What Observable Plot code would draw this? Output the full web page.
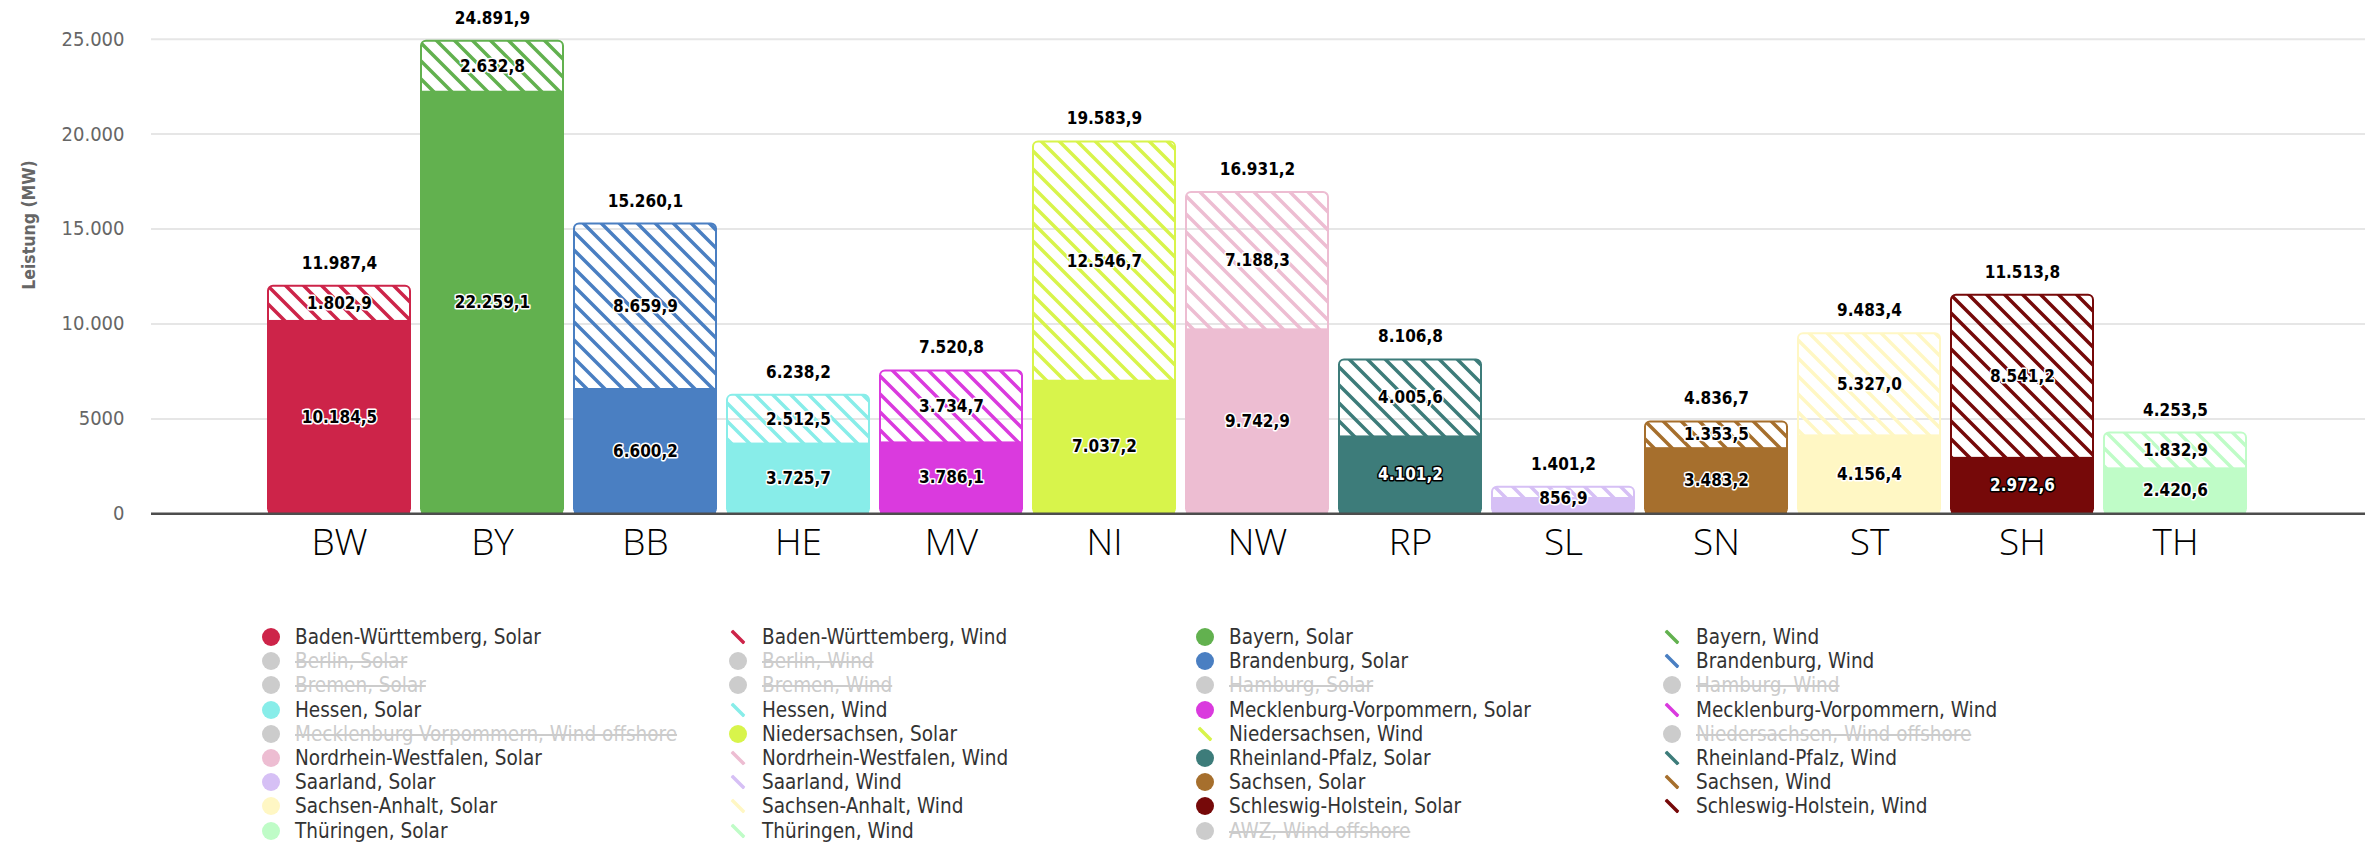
<!DOCTYPE html>
<html lang="de">
<head>
<meta charset="utf-8">
<script src="https://cdn.jsdelivr.net/npm/d3@7"></script>
<script src="https://cdn.jsdelivr.net/npm/@observablehq/plot@0.6"></script>
<style>
  html, body { margin: 0; padding: 0; background: #fff; }
  #wrap { position: relative; width: 2372px; height: 843px; overflow: hidden; }
  .cond { font-family: "DejaVu Sans Condensed", "DejaVu Sans", sans-serif; font-stretch: condensed; }
  #legend { position: absolute; left: 0; top: 600px; width: 2372px; height: 243px; }
  .item { position: absolute; display: flex; align-items: center; height: 24px; white-space: nowrap; font-size: 20.5px; color: #333; }
  .item svg { flex: none; margin-right: 15px; }
  .item.off { color: #ccc; }
  .item.off span { text-decoration: line-through; }
</style>
</head>
<body>
<div id="wrap">
  <svg width="0" height="0" style="position:absolute"><defs id="hatches"></defs></svg>
  <div id="chart"></div>
  <div id="legend" class="cond"></div>
</div>
<script>
// Installed capacity per federal state (MW)
const states = ["BW", "BY", "BB", "HE", "MV", "NI", "NW", "RP", "SL", "SN", "ST", "SH", "TH"];
const stateNames = ["Baden-Württemberg", "Bayern", "Brandenburg", "Hessen", "Mecklenburg-Vorpommern",
  "Niedersachsen", "Nordrhein-Westfalen", "Rheinland-Pfalz", "Saarland", "Sachsen",
  "Sachsen-Anhalt", "Schleswig-Holstein", "Thüringen"];
const solarMW = [10184.5, 22259.1, 6600.2, 3725.7, 3786.1, 7037.2, 9742.9, 4101.2, 856.9, 3483.2, 4156.4, 2972.6, 2420.6];
const windMW  = [1802.9, 2632.8, 8659.9, 2512.5, 3734.7, 12546.7, 7188.3, 4005.6, 544.3, 1353.5, 5327.0, 8541.2, 1832.9];
const totalMW = [11987.4, 24891.9, 15260.1, 6238.2, 7520.8, 19583.9, 16931.2, 8106.8, 1401.2, 4836.7, 9483.4, 11513.8, 4253.5];

const yTicks = [0, 5000, 10000, 15000, 20000, 25000];
const yTickLabels = ["0", "5000", "10.000", "15.000", "20.000", "25.000"];

// Legend entries in series order: [label, state code, kind, visible]
const legendSeries = [
  ["Baden-Württemberg, Solar", "BW", "solar", true],
  ["Baden-Württemberg, Wind", "BW", "wind", true],
  ["Bayern, Solar", "BY", "solar", true],
  ["Bayern, Wind", "BY", "wind", true],
  ["Berlin, Solar", null, "solar", false],
  ["Berlin, Wind", null, "wind", false],
  ["Brandenburg, Solar", "BB", "solar", true],
  ["Brandenburg, Wind", "BB", "wind", true],
  ["Bremen, Solar", null, "solar", false],
  ["Bremen, Wind", null, "wind", false],
  ["Hamburg, Solar", null, "solar", false],
  ["Hamburg, Wind", null, "wind", false],
  ["Hessen, Solar", "HE", "solar", true],
  ["Hessen, Wind", "HE", "wind", true],
  ["Mecklenburg-Vorpommern, Solar", "MV", "solar", true],
  ["Mecklenburg-Vorpommern, Wind", "MV", "wind", true],
  ["Mecklenburg-Vorpommern, Wind offshore", null, "wind", false],
  ["Niedersachsen, Solar", "NI", "solar", true],
  ["Niedersachsen, Wind", "NI", "wind", true],
  ["Niedersachsen, Wind offshore", null, "wind", false],
  ["Nordrhein-Westfalen, Solar", "NW", "solar", true],
  ["Nordrhein-Westfalen, Wind", "NW", "wind", true],
  ["Rheinland-Pfalz, Solar", "RP", "solar", true],
  ["Rheinland-Pfalz, Wind", "RP", "wind", true],
  ["Saarland, Solar", "SL", "solar", true],
  ["Saarland, Wind", "SL", "wind", true],
  ["Sachsen, Solar", "SN", "solar", true],
  ["Sachsen, Wind", "SN", "wind", true],
  ["Sachsen-Anhalt, Solar", "ST", "solar", true],
  ["Sachsen-Anhalt, Wind", "ST", "wind", true],
  ["Schleswig-Holstein, Solar", "SH", "solar", true],
  ["Schleswig-Holstein, Wind", "SH", "wind", true],
  ["Thüringen, Solar", "TH", "solar", true],
  ["Thüringen, Wind", "TH", "wind", true],
  ["AWZ, Wind offshore", null, "wind", false]
];

// Series colours per state
const stateColors = {
  BW: "#cd2449", BY: "#62b14f", BB: "#4a7fc2", HE: "#88ede9", MV: "#da3ade",
  NI: "#d8f44b", NW: "#edbdd2", RP: "#3d7c7a", SL: "#d6c0f5", SN: "#a66f2d",
  ST: "#fff7c4", SH: "#760909", TH: "#bffcc7"
};
const lightLabelStates = new Set(["RP", "SH"]);
const hiddenGray = "#cccccc";

const de = d3.formatLocale({decimal: ",", thousands: ".", grouping: [3], currency: ["", " €"]});
const fmt = de.format(",.1f");

const rows = states.map((s, i) => ({
  state: s, name: stateNames[i], solar: solarMW[i], wind: windMW[i], total: totalMW[i]
}));

// Diagonal hatch patterns for the wind segments
const defs = d3.select("#hatches");
for (const s of states) {
  const p = defs.append("pattern")
    .attr("id", `hatch-${s}`)
    .attr("patternUnits", "userSpaceOnUse")
    .attr("width", 18).attr("height", 18);
  p.append("path")
    .attr("d", "M0,0L18,18M-2,16L2,20M16,-2L20,2")
    .attr("stroke", stateColors[s])
    .attr("stroke-width", 3.5)
    .attr("fill", "none");
}

const condFont = "'DejaVu Sans Condensed', 'DejaVu Sans', sans-serif";

const chart = Plot.plot({
  width: 2372,
  height: 600,
  marginLeft: 151,
  marginRight: 7,
  marginTop: 38.7,
  marginBottom: 86.7,
  style: {background: "transparent", color: "#000"},
  x: {domain: states, range: [261.2, 2253], paddingInner: 0.075, paddingOuter: 0.0375, label: null},
  y: {domain: [0, 25000], label: null},
  color: {type: "identity"},
  marks: [
    Plot.ruleY(yTicks.slice(1), {stroke: "#e6e6e6", strokeWidth: 2}),
    // wind (hatched) drawn to the stack total, solar drawn over its lower part
    Plot.barY(rows, {
      x: "state", y1: () => 0, y2: "total",
      fill: d => `url(#hatch-${d.state})`,
      stroke: d => stateColors[d.state], strokeWidth: 2, rx: 5
    }),
    Plot.barY(rows, {x: "state", y1: () => 0, y2: "solar", fill: d => stateColors[d.state]}),
    Plot.ruleY([0], {stroke: "#4d4d4d", strokeWidth: 2.5}),
    Plot.axisY({
      ticks: yTicks, tickFormat: d => yTickLabels[yTicks.indexOf(d)],
      tickSize: 0, tickPadding: 27, fontSize: 20, fontFamily: condFont,
      color: "#666", fill: "#666", label: null
    }),
    Plot.axisX({
      tickSize: 0, tickPadding: 15, fontSize: 37, fontFamily: "'Open Sans', sans-serif",
      fontWeight: 300, color: "#000", fill: "#000", label: null
    }),
    // solar segment labels
    Plot.text(rows, {
      x: "state", y: d => Math.max(d.solar / 2, 820), text: d => fmt(d.solar),
      fontFamily: condFont, fontWeight: "bold", fontSize: 17, className: "cond",
      fill: d => lightLabelStates.has(d.state) ? "#fff" : "#000",
      stroke: d => lightLabelStates.has(d.state) ? "#000" : "#fff",
      strokeWidth: 3, paintOrder: "stroke"
    }),
    // wind segment labels (omitted where the segment is too thin)
    Plot.text(rows.filter(d => d.wind >= 1000), {
      x: "state", y: d => d.solar + d.wind / 2, text: d => fmt(d.wind),
      fontFamily: condFont, fontWeight: "bold", fontSize: 17, className: "cond",
      fill: "#000", stroke: "#fff", strokeWidth: 3, paintOrder: "stroke"
    }),
    // stack totals
    Plot.text(rows, {
      x: "state", y: "total", dy: -23, text: d => fmt(d.total),
      fontFamily: condFont, fontWeight: "bold", fontSize: 17, className: "cond",
      fill: "#000"
    })
  ]
});

d3.select(chart).append("text")
  .attr("transform", "translate(29,225) rotate(-90)")
  .attr("text-anchor", "middle")
  .attr("dy", "0.35em")
  .attr("class", "cond")
  .style("font-family", condFont)
  .style("font-weight", "bold")
  .style("font-size", "17.5px")
  .style("fill", "#666")
  .text("Leistung (MW)");

document.getElementById("chart").appendChild(chart);

// Legend: four columns, filled in row order
const legend = d3.select("#legend");
legendSeries.forEach(([label, code, kind, visible], i) => {
  const row = Math.floor(i / 4), col = i % 4;
  const item = legend.append("div")
    .attr("class", visible ? "item" : "item off")
    .style("left", `${262 + col * 467}px`)
    .style("top", `${25 + row * 24.2}px`);
  const sw = item.append("svg").attr("width", 18).attr("height", 18);
  let fill;
  if (!visible) fill = hiddenGray;
  else if (kind === "solar") fill = stateColors[code];
  else fill = `url(#hatch-${code})`;
  sw.append("circle").attr("cx", 9).attr("cy", 9).attr("r", 9).attr("fill", fill);
  item.append("span").text(label);
});
</script>
</body>
</html>
